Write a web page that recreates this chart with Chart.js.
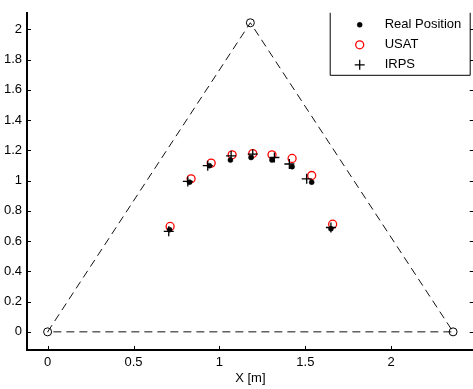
<!DOCTYPE html>
<html>
<head>
<meta charset="utf-8">
<script src="https://cdn.jsdelivr.net/npm/chart.js"></script>
<style>
  html, body { margin: 0; padding: 0; background: #fff; overflow: hidden; }
  #plot { display: block; }
</style>
</head>
<body>
<canvas id="plot" width="480" height="389"></canvas>
<script>
// anchor triangle (closed path back to the first corner)
const triX = [0, 1.18, 2.36, 0];
const triY = [0, 2.044, 0, 0];

// measured positions
const realX = [0.71, 0.826, 0.942, 1.064, 1.184, 1.306, 1.423, 1.537, 1.649];
const realY = [0.676, 0.99, 1.099, 1.136, 1.153, 1.136, 1.092, 0.99, 0.682];
const usatX = [0.713, 0.835, 0.952, 1.074, 1.194, 1.306, 1.423, 1.537, 1.659];
const usatY = [0.697, 1.012, 1.116, 1.171, 1.179, 1.171, 1.147, 1.034, 0.712];
const irpsX = [0.705, 0.816, 0.932, 1.068, 1.194, 1.32, 1.407, 1.508, 1.649];
const irpsY = [0.665, 0.995, 1.099, 1.164, 1.175, 1.153, 1.11, 1.012, 0.69];

const xTicks = [0, 0.5, 1, 1.5, 2];
const yTicks = [0, 0.2, 0.4, 0.6, 0.8, 1, 1.2, 1.4, 1.6, 1.8, 2];

const FONT = "'Liberation Sans', Arial, Helvetica, sans-serif";

function toPoints(xs, ys) {
  return xs.map((x, i) => ({ x: x, y: ys[i] }));
}

// plain number labels: 0, 0.5, 1 ... (no trailing zeros)
function plainLabel(v) {
  return String(Math.round(v * 10) / 10);
}

// inward tick marks and right-hand frame, MATLAB style
const frameTicks = {
  id: "frameTicks",
  afterDraw(chart) {
    const ctx = chart.ctx;
    const area = chart.chartArea;
    const xs = chart.scales.x;
    const ys = chart.scales.y;
    ctx.save();
    ctx.strokeStyle = "#000";
    ctx.lineWidth = 1;
    ctx.beginPath();
    xTicks.forEach((v) => {
      const px = Math.round(xs.getPixelForValue(v)) + 0.5;
      ctx.moveTo(px, area.bottom);
      ctx.lineTo(px, area.bottom - 4);
    });
    yTicks.forEach((v) => {
      const py = Math.round(ys.getPixelForValue(v)) + 0.5;
      ctx.moveTo(area.left, py);
      ctx.lineTo(area.left + 4, py);
      ctx.moveTo(area.right, py);
      ctx.lineTo(area.right - 4, py);
    });
    ctx.moveTo(area.right + 0.5, area.top);
    ctx.lineTo(area.right + 0.5, area.bottom);
    ctx.stroke();
    ctx.restore();
  },
};

// boxed legend in the upper right corner (top edge runs off the frame)
const boxLegend = {
  id: "boxLegend",
  afterDraw(chart) {
    const ctx = chart.ctx;
    const area = chart.chartArea;
    const items = chart.data.datasets.filter((d) => d.label);
    const right = area.right - 4;
    const left = right - 140;
    const top = area.top;
    const bottom = top + 62;
    ctx.save();
    ctx.fillStyle = "#fff";
    ctx.fillRect(left, top, right - left, bottom - top);
    ctx.strokeStyle = "#000";
    ctx.lineWidth = 1;
    ctx.beginPath();
    ctx.moveTo(left + 0.5, top);
    ctx.lineTo(left + 0.5, bottom + 0.5);
    ctx.lineTo(right + 0.5, bottom + 0.5);
    ctx.lineTo(right + 0.5, top);
    ctx.stroke();
    ctx.font = "13px " + FONT;
    ctx.textBaseline = "middle";
    items.forEach((d, i) => {
      const cy = top + 12 + i * 20;
      ctx.fillStyle = d.pointBackgroundColor;
      ctx.strokeStyle = d.pointBorderColor;
      ctx.lineWidth = d.pointBorderWidth;
      Chart.helpers.drawPoint(ctx, {
        pointStyle: d.pointStyle,
        radius: d.pointRadius,
        borderWidth: d.pointBorderWidth,
        rotation: 0,
      }, left + 30, cy);
      ctx.fillStyle = "#000";
      ctx.fillText(d.label, left + 55, cy);
    });
    ctx.restore();
  },
};

new Chart(document.getElementById("plot"), {
  type: "scatter",
  data: {
    datasets: [
      {
        data: toPoints(triX, triY),
        showLine: true,
        borderColor: "#111",
        borderWidth: 1,
        borderDash: [8, 5],
        tension: 0,
        fill: false,
        pointStyle: "circle",
        pointRadius: [4, 4, 4, 0],
        pointBorderColor: "#000",
        pointBackgroundColor: "rgba(0,0,0,0)",
        pointBorderWidth: 1,
        order: 3,
      },
      {
        label: "Real Position",
        data: toPoints(realX, realY),
        pointStyle: "circle",
        pointRadius: 2.5,
        pointBackgroundColor: "#000",
        pointBorderColor: "#000",
        pointBorderWidth: 0.5,
        order: 1,
      },
      {
        label: "USAT",
        data: toPoints(usatX, usatY),
        pointStyle: "circle",
        pointRadius: 4,
        pointBackgroundColor: "rgba(0,0,0,0)",
        pointBorderColor: "#ff0000",
        pointBorderWidth: 1.3,
        order: 2,
      },
      {
        label: "IRPS",
        data: toPoints(irpsX, irpsY),
        pointStyle: "cross",
        pointRadius: 5,
        pointBackgroundColor: "#000",
        pointBorderColor: "#000",
        pointBorderWidth: 1.3,
        order: 0,
      },
    ],
  },
  options: {
    responsive: false,
    animation: false,
    layout: { padding: { top: 8, right: 6, left: 0, bottom: 0 } },
    plugins: {
      legend: { display: false },
      tooltip: { enabled: false },
    },
    scales: {
      x: {
        type: "linear",
        min: -0.12,
        max: 2.48,
        afterFit: (scale) => { scale.height = 39; },
        afterBuildTicks: (scale) => { scale.ticks = xTicks.map((v) => ({ value: v })); },
        grid: { display: false, drawTicks: false },
        border: { display: true, color: "#000", width: 2 },
        ticks: { color: "#000", padding: 5, font: { family: FONT, size: 13 }, callback: plainLabel },
        title: {
          display: true,
          text: "X [m]",
          color: "#000",
          font: { family: FONT, size: 13 },
          padding: { top: 0, bottom: 3 },
        },
      },
      y: {
        type: "linear",
        min: -0.12,
        max: 2.11,
        afterFit: (scale) => { scale.width = 27; },
        afterBuildTicks: (scale) => { scale.ticks = yTicks.map((v) => ({ value: v })); },
        grid: { display: false, drawTicks: false },
        border: { display: true, color: "#000", width: 2 },
        ticks: { color: "#000", padding: 5, font: { family: FONT, size: 13 }, callback: plainLabel },
      },
    },
  },
  plugins: [frameTicks, boxLegend],
});
</script>
</body>
</html>
